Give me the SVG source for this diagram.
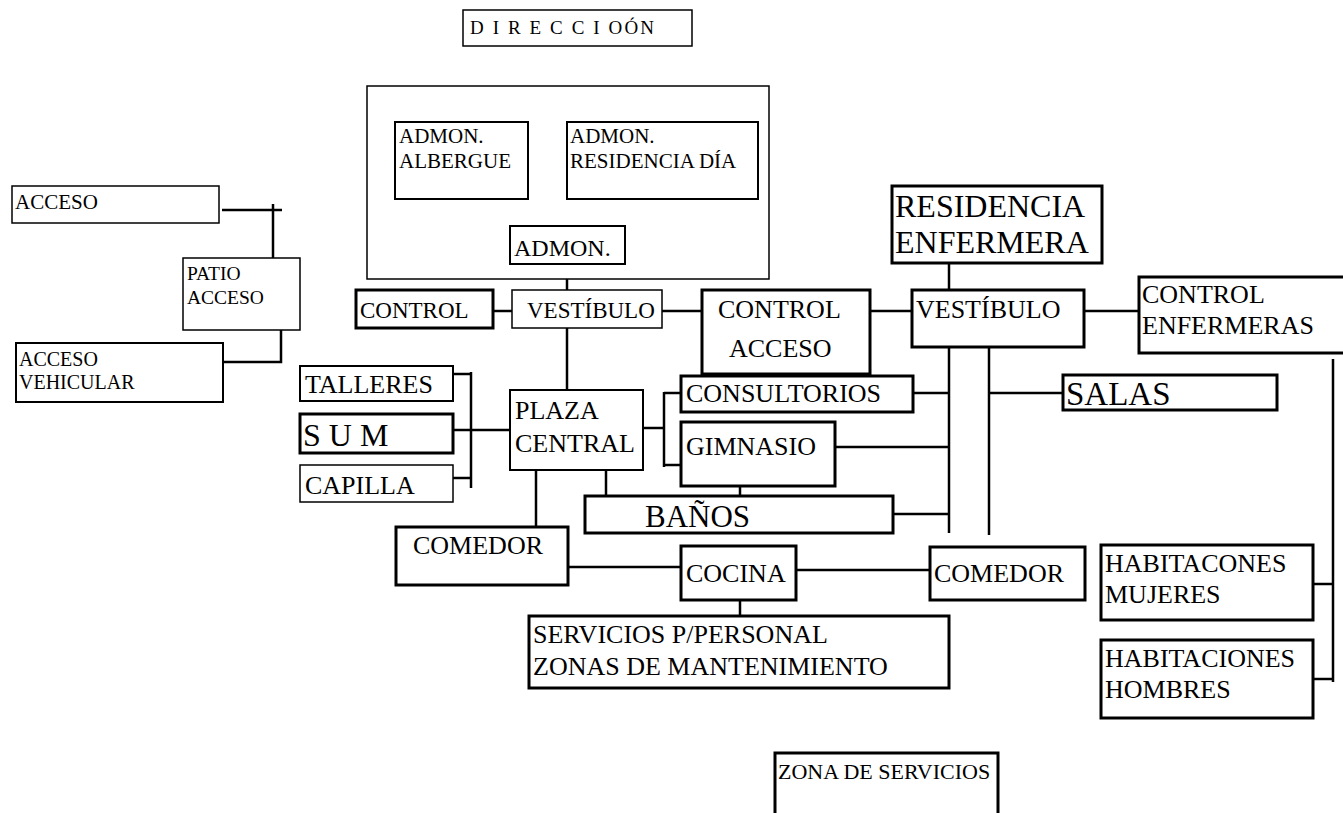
<svg xmlns="http://www.w3.org/2000/svg" width="1343" height="813" viewBox="0 0 1343 813">
<style>
rect{fill:#fff;stroke:#000}
.k{stroke-width:3}
.m{stroke-width:2}
.t{stroke-width:1.5}
text{font-family:"Liberation Serif","Times New Roman",serif;fill:#000}
.s20{font-size:20px}
.s21{font-size:21px}
.s23{font-size:23px}
.s24{font-size:24px}
.s26{font-size:26px}
.s32{font-size:32px}
#connectors line,#connectors polyline{stroke:#000;stroke-width:2.5;fill:none}
</style>
<rect width="1343" height="813" style="fill:#fff;stroke:none"/>
<g id="connectors">
<line x1="222" y1="210" x2="282" y2="210"/>
<line x1="273" y1="204" x2="273" y2="268"/>
<polyline points="281,323 281,362 223,362"/>
<line x1="567" y1="264" x2="567" y2="299"/>
<line x1="567" y1="326" x2="567" y2="400"/>
<line x1="493" y1="311" x2="512" y2="311"/>
<line x1="662" y1="311" x2="702" y2="311"/>
<line x1="870" y1="311" x2="912" y2="311"/>
<line x1="1084" y1="311" x2="1139" y2="311"/>
<line x1="949" y1="263" x2="949" y2="292"/>
<line x1="949" y1="347" x2="949" y2="533"/>
<line x1="989" y1="347" x2="989" y2="535"/>
<line x1="989" y1="393" x2="1063" y2="393"/>
<line x1="913" y1="393" x2="949" y2="393"/>
<line x1="835" y1="447" x2="949" y2="447"/>
<line x1="893" y1="514" x2="949" y2="514"/>
<line x1="740" y1="479" x2="740" y2="497"/>
<line x1="606" y1="464" x2="606" y2="501"/>
<line x1="536" y1="466" x2="536" y2="538"/>
<line x1="453" y1="374" x2="471" y2="374"/>
<line x1="453" y1="430" x2="510" y2="430"/>
<line x1="453" y1="478" x2="471" y2="478"/>
<line x1="471" y1="372" x2="471" y2="488"/>
<line x1="643" y1="428" x2="664" y2="428"/>
<line x1="664" y1="392" x2="664" y2="467"/>
<line x1="664" y1="393" x2="681" y2="393"/>
<line x1="664" y1="465" x2="681" y2="465"/>
<line x1="568" y1="567" x2="681" y2="567"/>
<line x1="796" y1="570" x2="930" y2="570"/>
<line x1="740" y1="598" x2="740" y2="616"/>
<line x1="1333" y1="359" x2="1333" y2="682"/>
<line x1="1313" y1="584" x2="1333" y2="584"/>
<line x1="1313" y1="679" x2="1333" y2="679"/>
</g>
<g id="direccion"><rect class="t" x="463" y="10" width="229" height="36"/><text x="470" y="34" font-size="19" textLength="184" lengthAdjust="spacing">D I R E C C I OÓN</text></g>
<g id="acceso"><rect class="t" x="12" y="186" width="207" height="37"/><text class="s21" x="15" y="209">ACCESO</text></g>
<g id="patio"><rect class="t" x="183" y="258" width="117" height="72"/><text x="187" y="280" font-size="19.5">PATIO</text><text x="187" y="304" font-size="19.5">ACCESO</text></g>
<g id="acceso-vehicular"><rect class="m" x="16" y="343" width="207" height="59"/><text class="s20" x="19" y="366">ACCESO</text><text class="s20" x="19" y="389">VEHICULAR</text></g>
<g id="administracion"><rect class="t" x="367" y="86" width="402" height="193"/></g>
<g id="admon-albergue"><rect class="m" x="395" y="122" width="133" height="77"/><text class="s21" x="399" y="143">ADMON.</text><text class="s21" x="399" y="168">ALBERGUE</text></g>
<g id="admon-residencia"><rect class="m" x="567" y="122" width="191" height="77"/><text class="s21" x="570" y="143">ADMON.</text><text class="s21" x="570" y="168">RESIDENCIA DÍA</text></g>
<g id="admon"><rect class="m" x="510" y="226" width="115" height="38"/><text class="s24" x="514" y="256">ADMON.</text></g>
<g id="control"><rect class="k" x="356" y="290" width="137" height="38"/><text class="s23" x="360" y="318">CONTROL</text></g>
<g id="vestibulo"><rect class="t" x="512" y="290" width="150" height="38"/><text class="s23" x="527" y="318">VESTÍBULO</text></g>
<g id="control-acceso"><rect class="k" x="702" y="290" width="168" height="84"/><text class="s26" x="718" y="318">CONTROL</text><text class="s26" x="729" y="357">ACCESO</text></g>
<g id="residencia-enfermera"><rect class="k" x="892" y="186" width="210" height="77"/><text class="s32" x="895" y="217">RESIDENCIA</text><text class="s32" x="895" y="253">ENFERMERA</text></g>
<g id="vestibulo-2"><rect class="k" x="912" y="290" width="172" height="57"/><text class="s26" x="916" y="318">VESTÍBULO</text></g>
<g id="control-enfermeras"><rect class="k" x="1139" y="277" width="210" height="76"/><text class="s26" x="1142" y="303">CONTROL</text><text class="s26" x="1142" y="334">ENFERMERAS</text></g>
<g id="talleres"><rect class="m" x="300" y="366" width="153" height="35"/><text class="s26" x="305" y="393">TALLERES</text></g>
<g id="sum"><rect class="k" x="300" y="414" width="153" height="39"/><text class="s32" x="303" y="446">S U M</text></g>
<g id="capilla"><rect class="t" x="300" y="465" width="153" height="37"/><text class="s26" x="305" y="494">CAPILLA</text></g>
<g id="plaza-central"><rect class="m" x="510" y="390" width="133" height="80"/><text class="s26" x="515" y="419">PLAZA</text><text class="s26" x="515" y="452">CENTRAL</text></g>
<g id="consultorios"><rect class="k" x="681" y="376" width="232" height="36"/><text class="s26" x="686" y="402">CONSULTORIOS</text></g>
<g id="gimnasio"><rect class="k" x="681" y="422" width="154" height="64"/><text class="s26" x="686" y="455">GIMNASIO</text></g>
<g id="banos"><rect class="k" x="585" y="496" width="308" height="37"/><text x="645" y="527" font-size="31">BAÑOS</text></g>
<g id="salas"><rect class="k" x="1063" y="375" width="214" height="35"/><text x="1066" y="405" font-size="33">SALAS</text></g>
<g id="comedor-1"><rect class="k" x="396" y="527" width="172" height="58"/><text class="s26" x="413" y="554">COMEDOR</text></g>
<g id="cocina"><rect class="k" x="681" y="546" width="115" height="54"/><text class="s26" x="686" y="582">COCINA</text></g>
<g id="comedor-2"><rect class="k" x="930" y="547" width="155" height="53"/><text class="s26" x="934" y="582">COMEDOR</text></g>
<g id="servicios"><rect class="k" x="529" y="616" width="420" height="72"/><text class="s26" x="533" y="643">SERVICIOS P/PERSONAL</text><text class="s26" x="533" y="675">ZONAS DE MANTENIMIENTO</text></g>
<g id="hab-mujeres"><rect class="k" x="1101" y="545" width="212" height="75"/><text class="s26" x="1105" y="572">HABITACONES</text><text class="s26" x="1105" y="603">MUJERES</text></g>
<g id="hab-hombres"><rect class="k" x="1101" y="640" width="212" height="78"/><text class="s26" x="1105" y="667">HABITACIONES</text><text class="s26" x="1105" y="698">HOMBRES</text></g>
<g id="zona-servicios"><polyline points="775,813 775,753 998,753 998,813" style="fill:none;stroke:#000;stroke-width:3"/><text x="778" y="779" font-size="22">ZONA DE SERVICIOS</text></g>
</svg>
